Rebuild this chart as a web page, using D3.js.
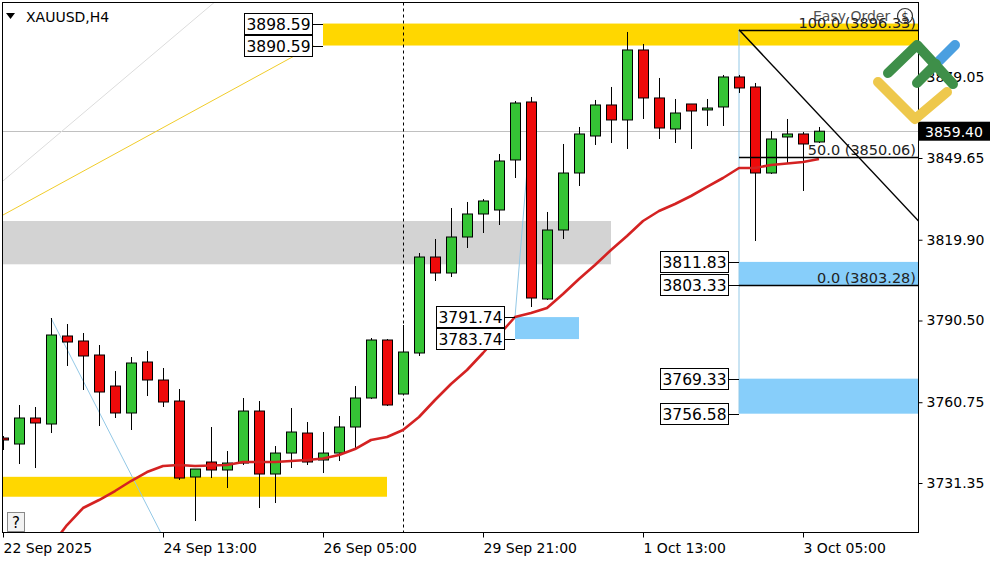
<!DOCTYPE html>
<html><head><meta charset="utf-8">
<script src="https://cdn.jsdelivr.net/npm/d3@7"></script>
<style>
html,body{margin:0;padding:0;background:#fff;}
svg{display:block;font-family:"DejaVu Sans",sans-serif;}
</style></head><body>
<svg id="chart" width="1000" height="562"></svg>
<script>
// ---------- DATA ----------
const symbolTitle = "XAUUSD,H4";
// H4 bars, index 0..51
const open  = [3747.72,3745.54,3755.01,3752.82,3784.86,3783.04,3777.94,3766.65,3756.83,3775.39,
               3768.84,3761.19,3733.53,3738.99,3736.08,3738.62,3757.55,3734.62,3742.26,3749.54,
               3739.72,3742.26,3751.73,3762.29,3783.40,3763.74,3778.67,3813.61,3807.79,3820.89,
               3829.27,3830.72,3848.93,3870.04,3798.32,3823.44,3844.19,3857.66,3868.95,3863.49,
               3888.97,3871.50,3860.21,3869.31,3867.13,3868.22,3879.14,3875.50,3844.19,3857.30,
               3858.39,3855.48];
const high  = [3748.45,3759.74,3759.01,3791.41,3789.22,3785.95,3781.58,3772.11,3777.21,3779.40,
               3773.21,3765.56,3736.44,3751.73,3742.99,3762.29,3761.19,3744.81,3758.65,3753.55,
               3749.91,3755.73,3766.65,3784.13,3783.76,3788.86,3815.07,3820.17,3831.45,3833.64,
               3834.73,3851.11,3870.40,3871.86,3830.00,3854.75,3860.94,3870.77,3875.50,3895.52,
               3891.15,3878.78,3871.13,3869.31,3871.13,3879.87,3879.87,3876.96,3859.48,3863.85,
               3859.12,3860.94];
const low   = [3743.36,3738.26,3736.80,3749.54,3773.94,3765.20,3752.09,3755.01,3750.64,3763.01,
               3759.01,3732.44,3717.51,3733.16,3729.52,3737.90,3722.24,3724.06,3736.80,3737.90,
               3734.98,3739.35,3744.08,3761.92,3759.37,3763.38,3777.58,3804.88,3806.33,3816.89,
               3822.35,3825.26,3842.37,3795.41,3797.96,3820.17,3839.46,3854.39,3855.11,3852.93,
               3863.85,3856.57,3855.11,3852.93,3861.30,3861.30,3873.32,3819.44,3843.83,3847.83,
               3837.64,3855.11];
const close = [3747.00,3755.01,3753.19,3785.22,3782.67,3777.58,3764.47,3756.83,3775.03,3768.84,
               3760.83,3733.16,3736.44,3736.08,3738.62,3757.55,3734.62,3742.26,3749.91,3738.99,
               3742.26,3751.73,3762.29,3783.40,3759.74,3779.03,3813.61,3807.79,3820.89,3829.27,
               3834.00,3848.56,3869.67,3798.69,3823.44,3844.19,3858.39,3868.95,3863.49,3888.97,
               3871.50,3860.57,3866.03,3866.76,3867.85,3879.14,3875.14,3844.19,3856.57,3858.39,
               3854.75,3859.40];
const movingAvg = [null,null,null,3708.41,3716.05,3722.24,3725.15,3728.43,3732.07,3735.35,
               3737.53,3737.90,3737.53,3737.71,3737.90,3738.99,3738.99,3738.99,3739.35,3739.72,
               3740.26,3741.54,3743.72,3747.00,3748.09,3750.64,3755.37,3761.56,3767.38,3772.48,
               3778.67,3785.22,3791.77,3793.23,3795.05,3800.15,3805.61,3810.70,3816.16,3821.26,
               3826.72,3830.36,3832.91,3835.82,3839.10,3842.37,3846.01,3846.01,3847.11,3847.65,
               3848.20,3849.29];
const lastPrice = 3859.40;

const yTickValues = [3879.05,3849.65,3819.90,3790.50,3760.75,3731.35];
const xTickIndex  = [0,10,20,30,40,50];
const xTickLabels = ["22 Sep 2025","24 Sep 13:00","26 Sep 05:00","29 Sep 21:00","1 Oct 13:00","3 Oct 05:00"];
const separatorIndex = 25;

// zones: [from index, to index (null = right edge), top price, bottom price]
const zoneGray   = [-2, 38, 3826.72, 3810.96];
const zoneGoldTop= [20, null, 3898.59, 3890.59];
const zoneGoldBot= [-2, 24, 3733.60, 3726.35];
const zoneBlue1  = [32, 36, 3791.74, 3783.74];
const zoneBlue2  = [46, null, 3811.83, 3803.33];
const zoneBlue3  = [46, null, 3769.33, 3756.58];

// trend lines: [[idx, price],[idx, price]]
const trendGray   = [[0,3841.3],[14,3910.2]];
const trendGold   = [[0,3828.9],[19.4,3890.59]];
const trendBlueA  = [[3,3791.41],[10.5,3706.0]];
const trendBlueB  = [[32,3791.74],[33,3863.0]];
const trendBlueV  = [[46,3896.33],[46,3756.58]];

// fibonacci
const fibStartIdx = 46, fibEndIdx = 61;
const fibLabels = ["100.0 (3896.33)","50.0 (3850.06)","0.0 (3803.28)"];
const fibValues = [3896.33, 3850.06, 3803.28];

// ---------- CHART ----------
const svg = d3.select("#chart");
const P = {left:2.5, right:918.5, top:2.5, bottom:532.5};
const x = d3.scaleLinear().domain([0,51]).range([3,819]);
const y = d3.scaleLinear().domain([3731.35,3849.65]).range([483,158]);
const GREEN="#35c435", RED="#ee0a0a";

svg.append("rect").attr("width",1000).attr("height",562).attr("fill","#fff");
svg.append("defs").append("clipPath").attr("id","clip").append("rect")
  .attr("x",P.left).attr("y",P.top).attr("width",P.right-P.left).attr("height",P.bottom-P.top);
const g = svg.append("g").attr("clip-path","url(#clip)");

function zone(z, color){
  const x0 = x(z[0]), x1 = z[1]===null ? P.right : x(z[1]);
  g.append("rect").attr("x",x0).attr("y",y(z[2])).attr("width",x1-x0)
   .attr("height",y(z[3])-y(z[2])).attr("fill",color);
}
zone(zoneGray,"#d3d3d3");
zone(zoneGoldTop,"#ffd700");
zone(zoneGoldBot,"#ffd700");
zone(zoneBlue1,"#87cefa");
zone(zoneBlue2,"#87cefa");
zone(zoneBlue3,"#87cefa");

// last price line
g.append("line").attr("x1",P.left).attr("x2",P.right)
  .attr("y1",Math.round(y(lastPrice))+0.5).attr("y2",Math.round(y(lastPrice))+0.5)
  .attr("stroke","#c0c0c0").attr("stroke-width",1);

// period separator
g.append("line").attr("x1",x(separatorIndex)+0.5).attr("x2",x(separatorIndex)+0.5)
  .attr("y1",P.top).attr("y2",P.bottom).attr("stroke","#000").attr("stroke-dasharray","3,3");

const lineGen = d3.line().x(d=>x(d[0])).y(d=>y(d[1]));
function trend(pts,color){ g.append("path").attr("d",lineGen(pts)).attr("fill","none").attr("stroke",color).attr("stroke-width",1); }
trend(trendGray,"#dcdcdc");
trend(trendGold,"#f0cc2a");
trend(trendBlueA,"#93c8e6");
trend(trendBlueB,"#93c8e6");
trend(trendBlueV,"#93c8e6");

// candles
const idx = d3.range(open.length);
const cg = g.append("g");
cg.selectAll("line.wick").data(idx).join("line").attr("class","wick")
  .attr("x1",i=>x(i)+0.5).attr("x2",i=>x(i)+0.5)
  .attr("y1",i=>y(high[i])).attr("y2",i=>y(low[i]))
  .attr("stroke","#000").attr("stroke-width",1);
cg.selectAll("rect.body").data(idx).join("rect").attr("class","body")
  .attr("x",i=>x(i)-4.5).attr("width",10)
  .attr("y",i=>y(Math.max(open[i],close[i])))
  .attr("height",i=>Math.max(1.5,Math.abs(y(open[i])-y(close[i]))))
  .attr("fill",i=>close[i]>=open[i]?GREEN:RED)
  .attr("stroke","#000").attr("stroke-width",1);

// moving average
g.append("path").datum(idx.filter(i=>movingAvg[i]!==null))
  .attr("d",d3.line().x(i=>x(i)).y(i=>y(movingAvg[i])))
  .attr("fill","none").attr("stroke","#d42222").attr("stroke-width",2.6).attr("stroke-linejoin","round");

// fibonacci
fibValues.forEach((v,k)=>{
  const yy = Math.round(y(v))+0.5;
  g.append("line").attr("x1",x(fibStartIdx)).attr("x2",P.right).attr("y1",yy).attr("y2",yy)
   .attr("stroke","#000").attr("stroke-width",1.6);
  g.append("text").attr("x",916).attr("y",yy-3).attr("text-anchor","end")
   .attr("font-size",14.5).attr("fill","#222").text(fibLabels[k]);
});
g.append("path").attr("d",lineGen([[fibStartIdx,fibValues[0]],[fibEndIdx,fibValues[2]]]))
  .attr("stroke","#000").attr("stroke-width",1.5).attr("fill","none");

// price label boxes
function priceBox(v, rightIdx){
  const xr = x(rightIdx), yy = y(v);
  g.append("line").attr("x1",xr-10).attr("x2",xr).attr("y1",Math.round(yy)+0.5).attr("y2",Math.round(yy)+0.5)
   .attr("stroke","#000");
  g.append("rect").attr("x",xr-78.5).attr("y",Math.round(yy)-10.5).attr("width",68).attr("height",21)
   .attr("fill","#fff").attr("stroke","#000");
  g.append("text").attr("x",xr-44.5).attr("y",Math.round(yy)+6).attr("text-anchor","middle")
   .attr("font-size",15.5).attr("fill","#000").text(v.toFixed(2));
}
[zoneGoldTop].forEach(z=>{priceBox(z[2],z[0]);priceBox(z[3],z[0]);});
[zoneBlue1,zoneBlue2,zoneBlue3].forEach(z=>{priceBox(z[2],z[0]);priceBox(z[3],z[0]);});

// Easy Order overlay
g.append("text").attr("x",813).attr("y",21).attr("font-size",14).attr("fill","#333").attr("opacity",0.85).text("Easy Order");
g.append("circle").attr("cx",905).attr("cy",16).attr("r",7.5).attr("fill","none").attr("stroke","#333").attr("stroke-width",1.2);
g.append("text").attr("x",905).attr("y",21).attr("text-anchor","middle").attr("font-size",12).attr("fill","#333").text("$");

// frame
svg.append("rect").attr("x",P.left).attr("y",P.top).attr("width",P.right-P.left).attr("height",P.bottom-P.top)
  .attr("fill","none").attr("stroke","#000").attr("stroke-width",1);

// y axis
const ya = svg.append("g").attr("transform",`translate(${P.right},0)`)
  .call(d3.axisRight(y).tickValues(yTickValues).tickFormat(d3.format(".2f")).tickSize(4).tickPadding(4));
ya.select(".domain").remove();
ya.selectAll("line").attr("stroke","#000");
ya.selectAll("text").attr("font-size",14).attr("font-family","DejaVu Sans").attr("fill","#000");

// x axis
const xa = svg.append("g").attr("transform",`translate(0,${P.bottom})`)
  .call(d3.axisBottom(x).tickValues(xTickIndex).tickFormat((d,i)=>xTickLabels[i]).tickSize(5));
xa.select(".domain").remove();
xa.selectAll("line").attr("stroke","#000");
xa.selectAll("text").attr("font-size",14).attr("font-family","DejaVu Sans").attr("fill","#000")
  .attr("text-anchor","start").attr("x",0).attr("y",20).attr("dy","0");

// last price tag
const ly = y(lastPrice);
svg.append("rect").attr("x",919).attr("y",ly-9.5).attr("width",71).attr("height",19).attr("fill","#000");
svg.append("text").attr("x",925).attr("y",ly+5.5).attr("font-size",14).attr("fill","#fff").text(lastPrice.toFixed(2));

// title
svg.append("path").attr("d","M6,13 L15,13 L10.5,19 Z").attr("fill","#000");
svg.append("text").attr("x",26).attr("y",22).attr("font-size",14).attr("fill","#000").text(symbolTitle);

// help icon
svg.append("rect").attr("x",7.5).attr("y",512.5).attr("width",17).attr("height",19).attr("fill","#f2f2f2").attr("stroke","#888");
svg.append("text").attr("x",16).attr("y",528).attr("text-anchor","middle").attr("font-size",15).attr("fill","#000").text("?");

// logo
const logo = svg.append("g").attr("fill","none").attr("stroke-width",10).attr("stroke-linecap","round").attr("stroke-linejoin","round");
logo.append("path").attr("d","M878,82 L915,119 L947,92").attr("stroke","#eec84c");
logo.append("path").attr("d","M939,61 L955,45").attr("stroke","#4a9fe0");
logo.append("path").attr("d","M888,73 L917,45 L953,84").attr("stroke","#3e8f49");
logo.append("path").attr("d","M917,83 L936,64").attr("stroke","#3e8f49");
</script></body></html>
